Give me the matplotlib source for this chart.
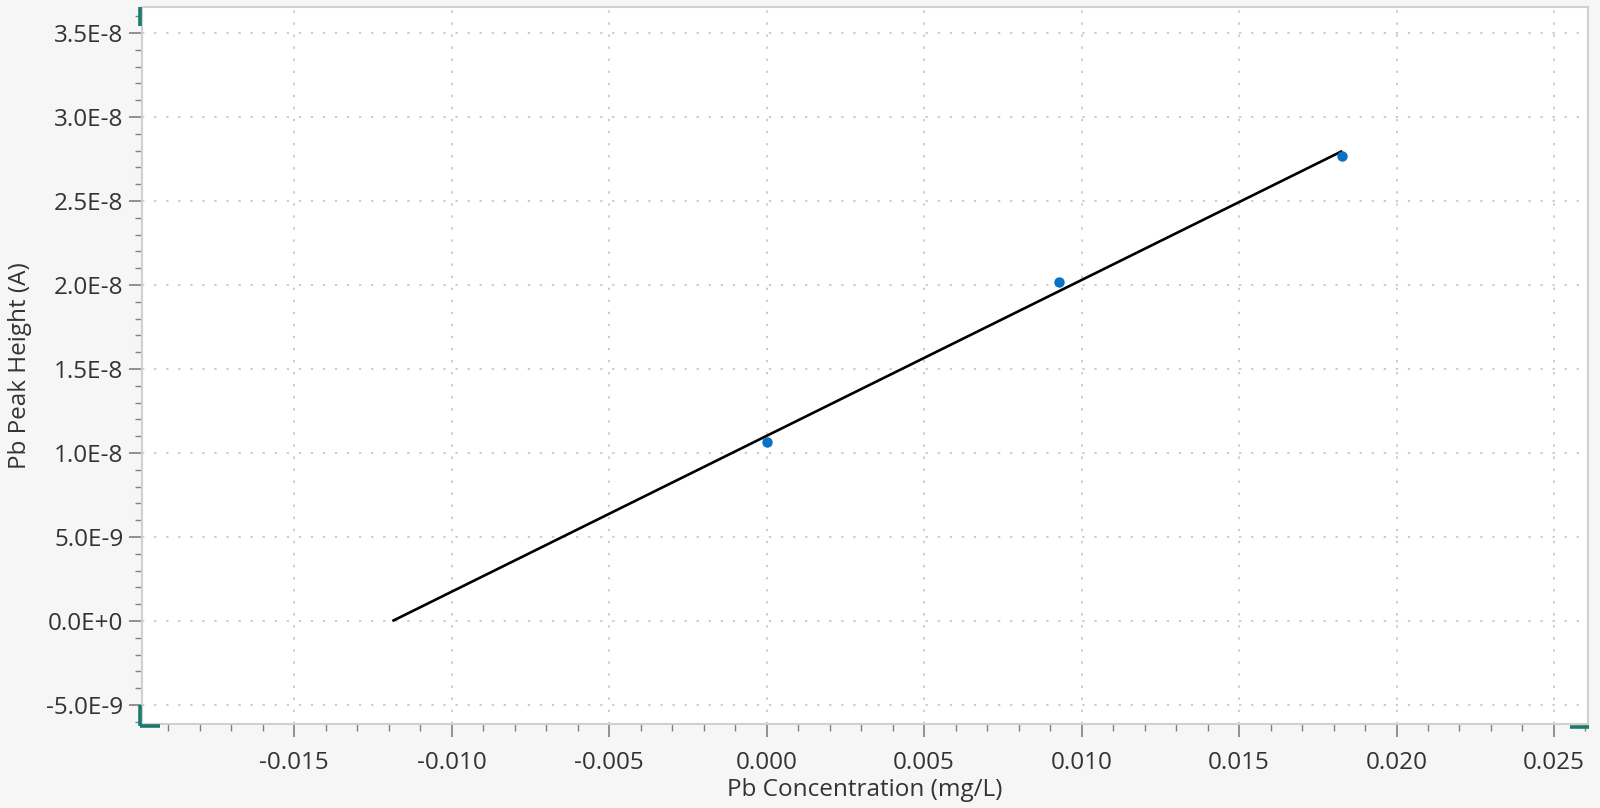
import matplotlib
matplotlib.use("Agg")
import matplotlib.pyplot as plt
from matplotlib.ticker import MultipleLocator, FuncFormatter
from matplotlib.lines import Line2D

# ---- data ----
conc = [0.0, 0.0093, 0.01828]                 # Pb Concentration (mg/L)
peak = [1.067e-8, 2.020e-8, 2.769e-8]         # Pb Peak Height (A)
fit_x = [-0.01188, 0.01828]                   # regression line extent
fit_slope = 9.277e-7
fit_intercept = 1.102e-8
fit_y = [fit_slope * x + fit_intercept for x in fit_x]

x_label = "Pb Concentration (mg/L)"
y_label = "Pb Peak Height (A)"

plt.rcParams['font.family'] = ['Open Sans', 'DejaVu Sans']

fig = plt.figure(figsize=(16, 8.08), dpi=100, facecolor='#f6f6f6')
ax = fig.add_axes([142/1600, 84/808, (1588-142)/1600, (724-7)/808])
ax.set_facecolor('white')

ax.plot(fit_x, fit_y, color='black', lw=1.9, zorder=3, solid_capstyle='butt')
ax.plot(conc, peak, 'o', color='#0a72c4', ms=7.5, mec='none', zorder=4)

ax.set_xlim(-0.01983, 0.02608)
ax.set_ylim(-6.13e-9, 3.655e-8)

ax.xaxis.set_major_locator(MultipleLocator(0.005))
ax.xaxis.set_minor_locator(MultipleLocator(0.001))
ax.yaxis.set_major_locator(MultipleLocator(5e-9))
ax.yaxis.set_minor_locator(MultipleLocator(1e-9))

def yfmt(v, pos):
    if abs(v) < 1e-15:
        return "0.0E+0"
    s = "%.1E" % v
    mant, exp = s.split("E")
    return "%sE%d" % (mant, int(exp))

ax.yaxis.set_major_formatter(FuncFormatter(yfmt))
ax.xaxis.set_major_formatter(FuncFormatter(lambda v, p: "%.3f" % (0.0 if abs(v) < 1e-12 else v)))

ax.grid(True, which='major', color='#cccccc', linestyle=(0, (1.2, 5)), linewidth=1.4)
ax.set_axisbelow(True)

for side in ['top', 'right', 'left', 'bottom']:
    ax.spines[side].set_color('#d0d0d0')
    ax.spines[side].set_linewidth(1.5)

fs = 17.5
ax.tick_params(which='major', length=9.4, width=1.2, color='#808080', labelsize=fs,
               labelcolor='#333333', pad=4)
ax.tick_params(which='minor', length=5, width=1.0, color='#808080')
ax.tick_params(axis='x', which='major', pad=10)

ax.set_xlabel(x_label, fontsize=fs, color='#333333', labelpad=2.5)
ax.set_ylabel(y_label, fontsize=fs, color='#333333', labelpad=10)

# teal corner markers
teal = '#1b7a6b'
def seg(x0, y0, x1, y1):
    fig.add_artist(Line2D([x0/1600, x1/1600], [1 - y0/808, 1 - y1/808],
                          color=teal, lw=2.6, solid_capstyle='butt'))
seg(139.5, 7, 139.5, 26)
seg(139.5, 705, 139.5, 726)
seg(139.5, 726, 160, 726)
seg(1570, 726.5, 1589, 726.5)

fig.savefig("out.png", dpi=100, facecolor=fig.get_facecolor())
